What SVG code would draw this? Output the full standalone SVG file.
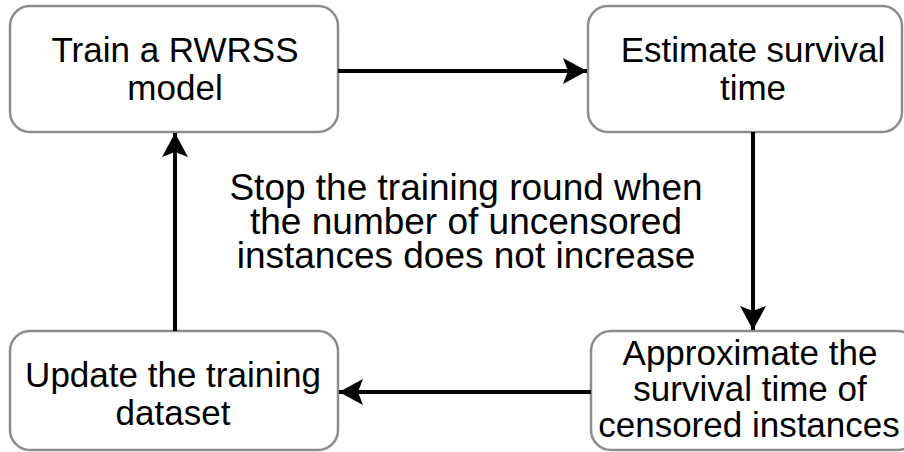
<svg xmlns="http://www.w3.org/2000/svg" width="904" height="452" viewBox="0 0 904 452">
  <style>
    .box { fill: #ffffff; stroke: #8c8c8c; stroke-width: 2.5; }
    .lbl { font-family: "Liberation Sans", Arial, sans-serif; font-size: 35px; fill: #000000; text-anchor: middle; }
    .mid { font-family: "Liberation Sans", Arial, sans-serif; font-size: 37px; fill: #000000; text-anchor: middle; }
    .conn { fill: none; stroke: #000000; stroke-width: 4; }
  </style>
  <defs>
    <marker id="arrow" markerUnits="userSpaceOnUse" markerWidth="26" markerHeight="26" viewBox="0 0 26 26" refX="24" refY="13" orient="auto">
      <path d="M0,0 L24,13 L0,26 L5,13 z" fill="#000000"/>
    </marker>
  </defs>
  <rect x="0" y="0" width="904" height="452" fill="#ffffff"/>

  <g id="node-train">
    <rect class="box" x="10" y="6" width="328" height="126" rx="20" ry="20"/>
    <text class="lbl" x="175" y="62">Train a RWRSS</text>
    <text class="lbl" x="175" y="100">model</text>
  </g>

  <g id="node-estimate">
    <rect class="box" x="588" y="6" width="314" height="126" rx="20" ry="20"/>
    <text class="lbl" x="753" y="62">Estimate survival</text>
    <text class="lbl" x="753" y="100">time</text>
  </g>

  <g id="node-update">
    <rect class="box" x="10" y="331" width="328" height="119" rx="20" ry="20"/>
    <text class="lbl" x="173" y="387">Update the training</text>
    <text class="lbl" x="173" y="425">dataset</text>
  </g>

  <g id="node-approximate">
    <rect class="box" x="591" y="331" width="326" height="119" rx="20" ry="20"/>
    <text class="lbl" x="750" y="365">Approximate the</text>
    <text class="lbl" x="750" y="401">survival time of</text>
    <text class="lbl" x="749" y="437">censored instances</text>
  </g>

  <g id="note">
    <text class="mid"><tspan x="466" y="200">Stop the training round when</tspan><tspan x="466" y="234">the number of uncensored</tspan><tspan x="466" y="268">instances does not increase</tspan></text>
  </g>

  <g id="connectors">
    <line class="conn" x1="338" y1="71" x2="587" y2="71" marker-end="url(#arrow)"/>
    <line class="conn" x1="753" y1="132" x2="753" y2="330" marker-end="url(#arrow)"/>
    <line class="conn" x1="591" y1="392" x2="339" y2="392" marker-end="url(#arrow)"/>
    <line class="conn" x1="175" y1="331" x2="175" y2="133" marker-end="url(#arrow)"/>
  </g>
</svg>
